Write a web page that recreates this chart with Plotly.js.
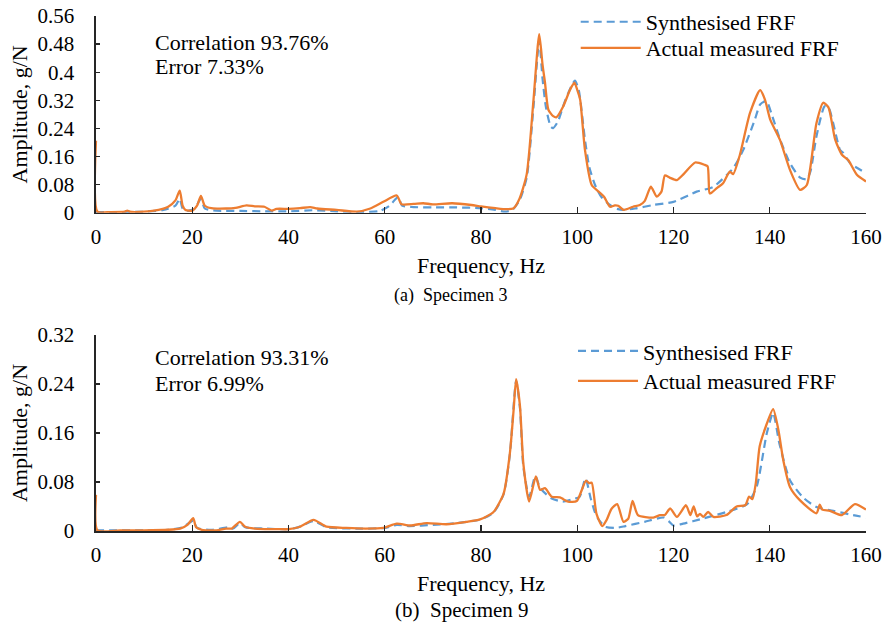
<!DOCTYPE html>
<html>
<head>
<meta charset="utf-8">
<script src="https://cdn.plot.ly/plotly-3.0.1.min.js"></script>
<style>html,body{margin:0;padding:0;background:#fff;}#chart{width:884px;height:627px;}</style>
</head>
<body>
<div id="chart"></div>
<script>
// ---- Specimen 3 (top) ----
var fActual3 = [0,0.3,3,6,6.5,7,10,13,15,16.5,17.4,18,18.6,20,21,21.8,22.6,24,27,29,31.3,33,35,36.5,37.5,40,42.4,44.5,46,50,54.2,57,59.7,62.5,63.5,66,68,70,74,78,80,83,85.3,86.7,88,89.5,90.9,92.1,92.8,93.3,94.0,95,95.7,97.1,98.5,99.4,100,100.6,101.6,103,104.7,105.6,106.8,107.8,108.5,109.6,111.6,113,114,115.3,116.5,117.5,118.2,119.2,120.7,122.1,124.5,126.5,127.1,127.5,127.9,129,130.3,131.7,132.4,133.8,135.9,138.0,139.0,140.1,142.1,144.2,146.3,147.7,149.7,151.1,152.2,153.6,155.0,156.3,158.1,160];
var aActual3 = [0.205,0.003,0.002,0.003,0.006,0.003,0.003,0.008,0.017,0.035,0.063,0.02,0.008,0.006,0.02,0.048,0.02,0.013,0.012,0.014,0.021,0.018,0.017,0.006,0.011,0.011,0.013,0.016,0.012,0.008,0.003,0.012,0.031,0.049,0.024,0.025,0.027,0.024,0.027,0.022,0.018,0.013,0.010,0.012,0.04,0.11,0.32,0.508,0.42,0.37,0.293,0.275,0.272,0.303,0.35,0.37,0.35,0.322,0.179,0.079,0.057,0.045,0.017,0.021,0.02,0.008,0.017,0.022,0.033,0.074,0.046,0.06,0.106,0.10,0.093,0.11,0.143,0.136,0.132,0.055,0.057,0.07,0.084,0.117,0.11,0.165,0.284,0.349,0.322,0.265,0.208,0.122,0.065,0.079,0.255,0.313,0.30,0.208,0.165,0.15,0.108,0.089];
var fSynth3 = [0,5,10,14,16.5,17.4,18,19,20.5,21.8,22.6,25,30,35,40,45,50,55,59,61,62.8,63.6,66,70,75,80,83,85,86.5,88,89.5,90.9,92.1,92.8,93.5,94.5,95,96,97.5,99.5,100.3,101.6,102.5,103.7,105,106.8,108,109.6,112,115.8,120,124.8,128.3,132.4,134.5,136.9,138,139.3,140.4,142.1,144.2,146.3,147.7,148.5,149.7,151.4,152.2,154.6,155.3,156.7,160];
var aSynth3 = [0.002,0.002,0.003,0.008,0.02,0.04,0.012,0.005,0.012,0.04,0.012,0.006,0.005,0.004,0.004,0.007,0.004,0.002,0.005,0.02,0.045,0.02,0.016,0.015,0.015,0.013,0.008,0.003,0.008,0.035,0.10,0.30,0.49,0.38,0.30,0.245,0.241,0.26,0.32,0.376,0.35,0.208,0.13,0.079,0.045,0.022,0.012,0.008,0.012,0.022,0.031,0.06,0.074,0.127,0.179,0.265,0.308,0.318,0.28,0.21,0.141,0.1,0.095,0.12,0.217,0.303,0.30,0.179,0.17,0.141,0.113];

// ---- Specimen 9 (bottom) ----
var fActual9 = [0,0.3,5,10,15,17.5,19,20.2,20.8,22,25,27,28.2,29.9,31,33,38,40,42.4,45.2,47.9,52,56,59.7,62.5,65.3,68.7,72.8,77,79.8,82.6,84.7,86,86.8,87.3,88.1,88.8,90.0,91.4,92.3,93.3,94.7,96.4,97.1,98.1,99.9,101.8,102.5,103,104,105.2,106.1,107.1,108.3,109.6,110.6,111.5,112.6,115.8,117.2,118.2,119.3,120.7,122.6,123.5,124.2,124.9,125.5,126.2,127.2,128.3,131.0,133.1,134.9,135.7,136.4,137.1,137.9,139.2,140.7,141.8,142.8,144.2,146.3,149.7,150.4,150.9,152.5,155.0,157.7,160];
var aActual9 = [0.059,0.001,0.001,0.001,0.002,0.004,0.01,0.021,0.006,0.002,0.001,0.004,0.004,0.015,0.007,0.004,0.003,0.003,0.007,0.018,0.007,0.005,0.004,0.005,0.012,0.009,0.013,0.011,0.015,0.019,0.031,0.061,0.127,0.2,0.248,0.204,0.11,0.048,0.089,0.067,0.07,0.056,0.055,0.052,0.048,0.049,0.082,0.078,0.079,0.028,0.008,0.018,0.036,0.044,0.015,0.02,0.049,0.026,0.022,0.026,0.026,0.037,0.023,0.042,0.026,0.04,0.024,0.028,0.023,0.031,0.023,0.026,0.04,0.042,0.056,0.052,0.078,0.138,0.171,0.199,0.165,0.116,0.072,0.05,0.029,0.043,0.035,0.033,0.026,0.044,0.035];
var fSynth9 = [0,10,15,18,20.2,21,24,27.5,28.5,29.9,31,35,40,42,45.2,48,55,60,62.5,65,70,75,80,82.6,84.7,86,87.3,88.1,88.8,90.0,91.3,92.3,94.7,97,99,100.5,101.7,102.8,103.7,104.5,105.8,108,110,114,118,119,120,122,124,131,135.3,137.3,139.4,140.7,142,144.2,146.9,149.7,153.2,157.3,160];
var aSynth9 = [0.001,0.001,0.002,0.006,0.017,0.005,0.002,0.006,0.004,0.013,0.006,0.004,0.003,0.006,0.016,0.006,0.004,0.005,0.01,0.008,0.01,0.013,0.019,0.03,0.06,0.125,0.245,0.2,0.105,0.056,0.09,0.07,0.053,0.048,0.052,0.056,0.086,0.053,0.03,0.018,0.007,0.005,0.008,0.015,0.022,0.016,0.009,0.012,0.016,0.031,0.044,0.073,0.16,0.193,0.143,0.083,0.055,0.039,0.033,0.026,0.022];

var xTicks = [0,20,40,60,80,100,120,140,160];
var yTicks3 = [0,0.08,0.16,0.24,0.32,0.4,0.48,0.56];
var yTicks9 = [0,0.08,0.16,0.24,0.32];
var seriesNames = ['Synthesised FRF', 'Actual measured FRF'];
var statText3 = ['Correlation 93.76%', 'Error 7.33%'];
var statText9 = ['Correlation 93.31%', 'Error 6.99%'];
var captions = ['(a)\u00A0 Specimen 3', '(b)\u00A0 Specimen 9'];

var BLUE = '#5B9BD5', ORANGE = '#ED7D31', AX = '#262626';
var FONT = 'Liberation Serif, Times New Roman, serif';

function synth(x, y, xa, ya, leg) {
  return {x: x, y: y, xaxis: xa, yaxis: ya, type: 'scatter', mode: 'lines', name: seriesNames[0],
    legend: leg, line: {color: BLUE, width: 2.2, dash: '8px,5px', shape: 'spline', smoothing: 0.6}, hoverinfo: 'skip'};
}
function actual(x, y, xa, ya, leg) {
  return {x: x, y: y, xaxis: xa, yaxis: ya, type: 'scatter', mode: 'lines', name: seriesNames[1],
    legend: leg, line: {color: ORANGE, width: 2.3, shape: 'spline', smoothing: 0.6}, hoverinfo: 'skip'};
}

var data = [
  synth(fSynth3, aSynth3, 'x', 'y', 'legend'),
  actual(fActual3, aActual3, 'x', 'y', 'legend2'),
  synth(fSynth9, aSynth9, 'x2', 'y2', 'legend3'),
  actual(fActual9, aActual9, 'x2', 'y2', 'legend4')
];

// main axes: labelled, ticks drawn inside; overlay axes add the outside half of each crossing tick
function xax(anchor) {
  return {domain: [0, 1], anchor: anchor, range: [0, 160], tickvals: xTicks, ticks: 'inside', ticklen: 6,
    tickwidth: 1.3, tickcolor: AX, showline: true, linecolor: AX, linewidth: 1.6, showgrid: false, zeroline: false,
    tickfont: {family: FONT, size: 21, color: '#000'}, ticklabelstandoff: 4,
    title: {text: 'Frequency, Hz', font: {family: FONT, size: 22, color: '#000'}, standoff: 10}};
}
function yax(anchor, domain, range, ticks) {
  return {domain: domain, anchor: anchor, range: range, tickvals: ticks, ticks: 'inside', ticklen: 4,
    tickwidth: 1.3, tickcolor: AX, showline: true, linecolor: AX, linewidth: 1.6, showgrid: false, zeroline: false,
    tickfont: {family: FONT, size: 21, color: '#000'}, ticklabelstandoff: 16,
    title: {text: 'Amplitude, g/N', font: {family: FONT, size: 22, color: '#000'}, standoff: 4}};
}
function xout(over, anchor) {
  return {overlaying: over, anchor: anchor, range: [0, 160], tickvals: xTicks, ticks: 'outside', ticklen: 7,
    tickwidth: 1.3, tickcolor: AX, showticklabels: false, showline: false, showgrid: false, zeroline: false};
}
function yout(over, anchor, range, ticks) {
  return {overlaying: over, anchor: anchor, range: range, tickvals: ticks, ticks: 'outside', ticklen: 6,
    tickwidth: 1.3, tickcolor: AX, showticklabels: false, showline: false, showgrid: false, zeroline: false};
}
function leg(x, y) {
  return {x: x, xanchor: 'left', y: y, yanchor: 'middle', bgcolor: 'rgba(0,0,0,0)',
    font: {family: FONT, size: 22, color: '#000'}, itemwidth: 60, tracegroupgap: 0};
}

var TOPDOM = [0.618, 1], BOTDOM = [0, 0.3806];

var layout = {
  width: 884, height: 627,
  margin: {l: 96, r: 18, t: 16, b: 96, autoexpand: false},
  paper_bgcolor: '#fff', plot_bgcolor: '#fff',
  font: {family: FONT, size: 22, color: '#000'},
  showlegend: true,
  xaxis: xax('y'),
  yaxis: yax('x', TOPDOM, [0, 0.56], yTicks3),
  xaxis2: xax('y2'),
  yaxis2: yax('x2', BOTDOM, [0, 0.32], yTicks9),
  xaxis3: xout('x', 'y'),
  yaxis3: yout('y', 'x', [0, 0.56], yTicks3),
  xaxis4: xout('x2', 'y2'),
  yaxis4: yout('y2', 'x2', [0, 0.32], yTicks9),
  legend: leg(0.623, 0.9884),
  legend2: leg(0.623, 0.9379),
  legend3: leg(0.6195, 0.3493),
  legend4: leg(0.6195, 0.2911),
  annotations: [
    {text: statText3[0], xref: 'paper', yref: 'paper', x: 0.074, y: 0.9495, xanchor: 'left', yanchor: 'middle', showarrow: false, font: {family: FONT, size: 22}},
    {text: statText3[1], xref: 'paper', yref: 'paper', x: 0.074, y: 0.901, xanchor: 'left', yanchor: 'middle', showarrow: false, font: {family: FONT, size: 22}},
    {text: statText9[0], xref: 'paper', yref: 'paper', x: 0.074, y: 0.336, xanchor: 'left', yanchor: 'middle', showarrow: false, font: {family: FONT, size: 22}},
    {text: statText9[1], xref: 'paper', yref: 'paper', x: 0.074, y: 0.286, xanchor: 'left', yanchor: 'middle', showarrow: false, font: {family: FONT, size: 22}},
    {text: captions[0], xref: 'paper', yref: 'paper', x: 0.46, y: 0.458, xanchor: 'center', yanchor: 'middle', showarrow: false, font: {family: FONT, size: 18}},
    {text: captions[1], xref: 'paper', yref: 'paper', x: 0.475, y: -0.154, xanchor: 'center', yanchor: 'middle', showarrow: false, font: {family: FONT, size: 21}}
  ]
};

Plotly.newPlot('chart', data, layout, {staticPlot: true, displayModeBar: false});
</script>
</body>
</html>
